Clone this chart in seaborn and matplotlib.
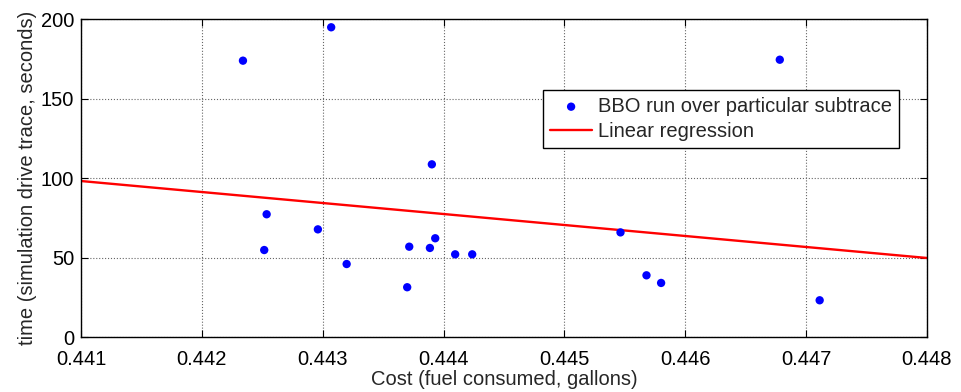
import numpy as np
import pandas as pd
import matplotlib
matplotlib.use("Agg")
import matplotlib.pyplot as plt
import seaborn as sns

# Fuel cost vs. subtrace time for each BBO run
cost = [0.44234, 0.44307, 0.442536, 0.442516, 0.44296, 0.443198, 0.443699,
        0.443716, 0.443887, 0.443931, 0.443903, 0.444096, 0.444237,
        0.445464, 0.445679, 0.445800, 0.446782, 0.447112]
time_s = [173.8, 194.8, 77.2, 54.7, 67.7, 45.9, 31.3,
          56.8, 56.0, 62.1, 108.6, 52.0, 52.0,
          65.8, 38.8, 34.0, 174.4, 23.1]

# Fitted regression line endpoints
reg_x = [0.441, 0.448]
reg_y = [98.1, 49.7]

x_ticks = [0.441, 0.442, 0.443, 0.444, 0.445, 0.446, 0.447, 0.448]
x_tick_labels = ["0.441", "0.442", "0.443", "0.444", "0.445", "0.446", "0.447", "0.448"]
y_ticks = [0, 50, 100, 150, 200]

sns.set_theme(style="white")
plt.rcParams["font.family"] = ["Liberation Sans", "DejaVu Sans"]
FS = 14.5

runs = pd.DataFrame({"cost": cost, "time": time_s})
fit = pd.DataFrame({"cost": reg_x, "time": reg_y})

fig = plt.figure(figsize=(9.61, 3.92), dpi=100)
ax = fig.add_axes([0.0843, 0.1403, 0.8803, 0.8112])

sns.scatterplot(data=runs, x="cost", y="time", ax=ax, color=(0, 0, 1),
                s=36, edgecolor="none", label="BBO run over particular subtrace",
                zorder=3)
sns.lineplot(data=fit, x="cost", y="time", ax=ax, color=(1, 0, 0),
             linewidth=1.7, label="Linear regression", zorder=2)

ax.set_xlim(0.441, 0.448)
ax.set_ylim(0, 200)
ax.set_xticks(x_ticks)
ax.set_xticklabels(x_tick_labels)
ax.set_yticks(y_ticks)

ax.grid(True, linestyle=":", color="#666666", linewidth=0.8)
ax.set_axisbelow(True)
for sp in ax.spines.values():
    sp.set_color("black")
    sp.set_linewidth(1.0)
    sp.set_visible(True)

ax.tick_params(axis="both", direction="in", length=5, width=0.8, colors="black",
               labelsize=FS, top=True, right=True, bottom=True, left=True)
ax.tick_params(axis="x", pad=9)
ax.tick_params(axis="y", pad=5)

ax.set_xlabel("Cost (fuel consumed, gallons)", fontsize=FS, labelpad=1)
ax.set_ylabel("time (simulation drive trace, seconds)", fontsize=FS, labelpad=3)

leg = ax.legend(loc="upper left", bbox_to_anchor=(0.546, 0.777), borderaxespad=0,
                fontsize=FS, frameon=True, fancybox=False, framealpha=1,
                edgecolor="black", handlelength=2.1, handletextpad=0.3,
                borderpad=0.35, labelspacing=0.3)
leg.get_frame().set_linewidth(1.0)

fig.savefig("out.png", dpi=100)
